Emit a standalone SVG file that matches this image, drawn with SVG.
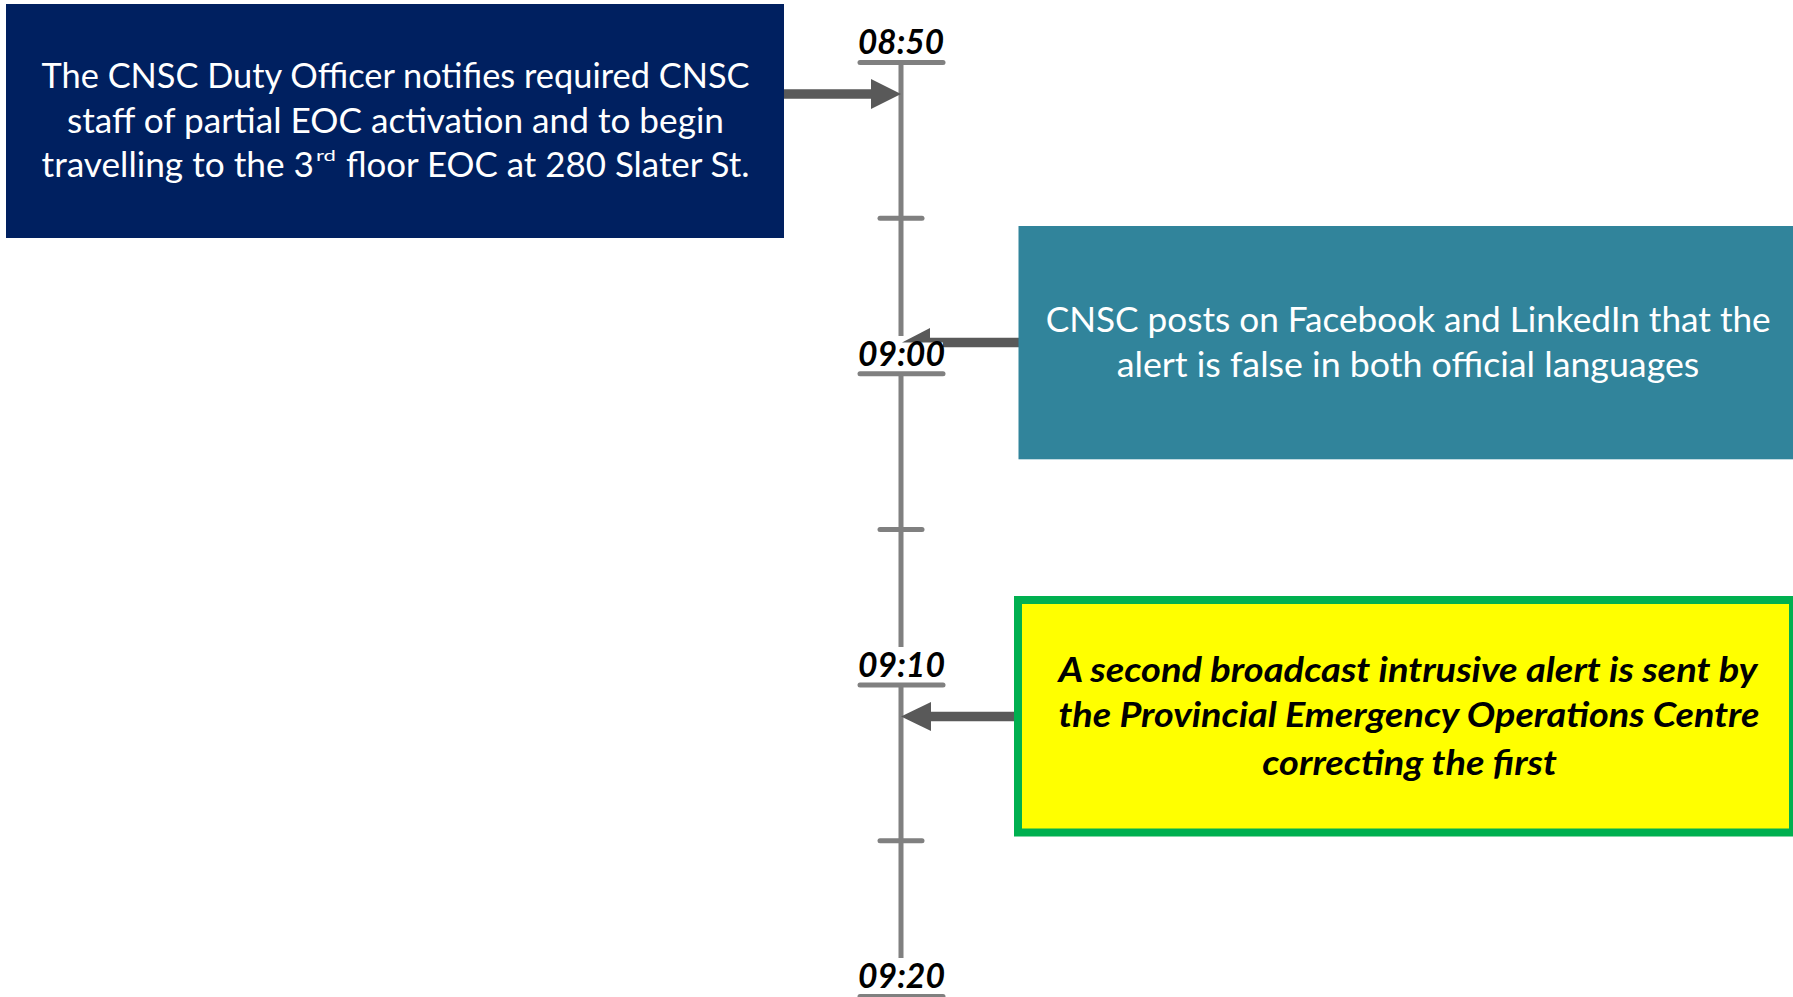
<svg xmlns="http://www.w3.org/2000/svg" width="1793" height="997" viewBox="0 0 1793 997">
<style>
.txt{font-family:Lato,"Open Sans","Liberation Sans",sans-serif;font-size:34px;fill:#FFFFFF}
.bi{font-family:Lato,"Open Sans","Liberation Sans",sans-serif;font-size:34px;font-weight:bold;font-style:italic;fill:#000000}
.lbl{font-family:Lato,"Open Sans","Liberation Sans",sans-serif;font-size:34px;font-weight:bold;font-style:italic;fill:#000000}
.bar{stroke:#808080;stroke-width:5;stroke-linecap:round}
.axis{stroke:#808080;stroke-width:5}
.shaft{stroke:#595959;stroke-width:9.5;fill:none}
.head{fill:#595959}
</style>
<rect width="1793" height="997" fill="#FFFFFF"/>
<g id="timeline">
<line class="axis" x1="901" y1="62.5" x2="901" y2="336"/>
<line class="axis" x1="901" y1="373.8" x2="901" y2="647"/>
<line class="axis" x1="901" y1="685.1" x2="901" y2="958"/>
<line class="bar" x1="880" y1="218.2" x2="922" y2="218.2"/>
<line class="bar" x1="880" y1="529.5" x2="922" y2="529.5"/>
<line class="bar" x1="880" y1="840.8" x2="922" y2="840.8"/>
</g>
<g id="connectors">
<line class="shaft" x1="784" y1="94" x2="873" y2="94"/>
<polygon class="head" points="901,94 871,79 871,109"/>
<line class="shaft" x1="1019" y1="342.5" x2="928" y2="342.5"/>
<polygon class="head" points="902,342.5 930,328 930,357"/>
<line class="shaft" x1="1015" y1="716.5" x2="929" y2="716.5"/>
<polygon class="head" points="901,716.5 931,702 931,731"/>
</g>
<g id="label-0850">
<text class="lbl" x="858" y="54" textLength="86" lengthAdjust="spacingAndGlyphs">08:50</text>
<line class="bar" x1="860" y1="62.5" x2="943" y2="62.5"/>
</g>
<g id="label-0900">
<rect x="856" y="342.5" width="87" height="28" fill="#FFFFFF"/>
<text class="lbl" x="858" y="365.8" textLength="87" lengthAdjust="spacingAndGlyphs">09:00</text>
<line class="bar" x1="860" y1="373.8" x2="943" y2="373.8"/>
</g>
<g id="label-0910">
<text class="lbl" x="858" y="677.1" textLength="87" lengthAdjust="spacingAndGlyphs">09:10</text>
<line class="bar" x1="860" y1="685.1" x2="943" y2="685.1"/>
</g>
<g id="label-0920">
<text class="lbl" x="858" y="988.4" textLength="87" lengthAdjust="spacingAndGlyphs">09:20</text>
<line class="bar" x1="860" y1="996.4" x2="943" y2="996.4"/>
</g>
<g id="node-notify">
<rect x="6" y="4" width="778" height="234" fill="#002060"/>
<text class="txt" x="41.5" y="87.5" textLength="708" lengthAdjust="spacingAndGlyphs">The CNSC Duty Officer notifies required CNSC</text>
<text class="txt" x="67" y="132.5" textLength="657" lengthAdjust="spacingAndGlyphs">staff of partial EOC activation and to begin</text>
<text class="txt" x="41.5" y="177.3" textLength="272.5" lengthAdjust="spacingAndGlyphs">travelling to the 3</text>
<text class="txt" x="316" y="161" style="font-size:15px" textLength="20" lengthAdjust="spacingAndGlyphs">rd</text>
<text class="txt" x="346" y="177.3" textLength="403.5" lengthAdjust="spacingAndGlyphs">floor EOC at 280 Slater St.</text>
</g>
<g id="node-social">
<rect x="1018.5" y="226" width="774.5" height="233.3" fill="#31849B"/>
<text class="txt" x="1045.7" y="331.7" textLength="725" lengthAdjust="spacingAndGlyphs">CNSC posts on Facebook and LinkedIn that the</text>
<text class="txt" x="1116.7" y="376.7" textLength="582.6" lengthAdjust="spacingAndGlyphs">alert is false in both official languages</text>
</g>
<g id="node-second-alert">
<rect x="1018" y="600" width="775" height="232.5" fill="#FFFF00" stroke="#00B050" stroke-width="8"/>
<text class="bi" x="1058.4" y="681.7" textLength="699" lengthAdjust="spacingAndGlyphs">A second broadcast intrusive alert is sent by</text>
<text class="bi" x="1058.4" y="727.3" textLength="701" lengthAdjust="spacingAndGlyphs">the Provincial Emergency Operations Centre</text>
<text class="bi" x="1262.3" y="775" textLength="294.5" lengthAdjust="spacingAndGlyphs">correcting the first</text>
</g>
</svg>
